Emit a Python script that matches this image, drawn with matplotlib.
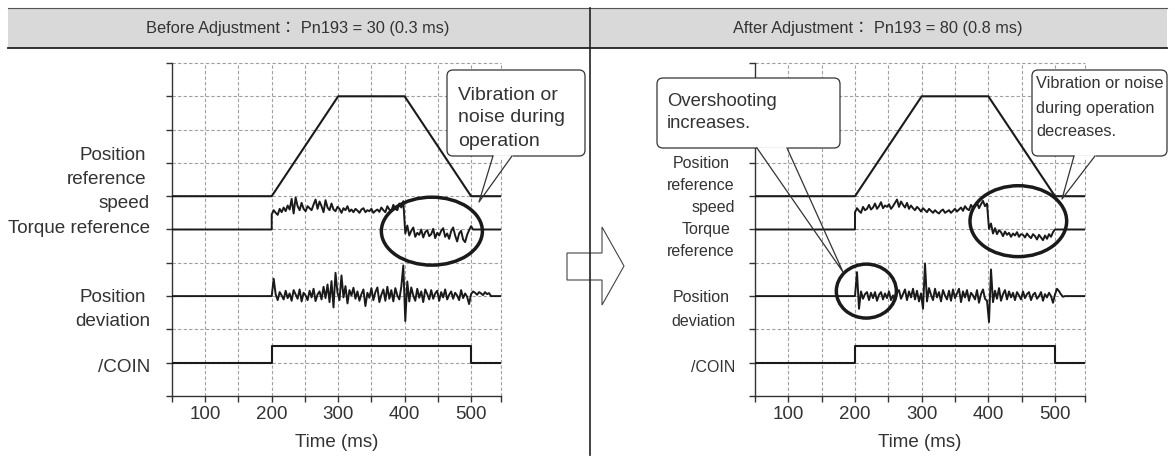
import matplotlib
matplotlib.use("Agg")
import matplotlib.pyplot as plt
import numpy as np
from matplotlib.patches import Ellipse, FancyBboxPatch, Polygon, Rectangle
from matplotlib.lines import Line2D
from matplotlib.transforms import Affine2D

plt.rcParams['font.family'] = ['Liberation Sans', 'Noto Sans CJK JP', 'DejaVu Sans']

# ---------------- data ----------------
titles = ["Before Adjustment： Pn193 = 30 (0.3 ms)", "After Adjustment： Pn193 = 80 (0.8 ms)"]
x_ticks = [50, 100, 150, 200, 250, 300, 350, 400, 450, 500]
x_ticklabels = ["", "100", "", "200", "", "300", "", "400", "", "500"]
x_label = "Time (ms)"
t_start, t_end = 50, 545

# position reference speed (level units)
speed_t = [50, 200, 300, 400, 500, 545]
speed_v = [6, 6, 9, 9, 6, 6]
# /COIN
coin_t = [50, 200, 200, 500, 500, 545]
coin_v = [1, 1, 1.5, 1.5, 1, 1]

torque_base = 5
posdev_base = 3
noise_t0 = 200
noise_dt = 3

# Before adjustment: torque reference samples (every 3 ms from 200 ms)
torque_before = [
    5.45, 5.58, 5.50, 5.44, 5.62, 5.52, 5.66, 5.55, 5.72, 5.60,
    5.92, 5.48, 5.96, 5.70, 5.58, 5.80, 5.62, 5.55, 5.70, 5.64,
    5.58, 5.75, 5.90, 5.62, 5.84, 5.70, 5.52, 5.88, 5.66, 5.58,
    5.78, 5.60, 5.55, 5.68, 5.62, 5.50, 5.64, 5.58, 5.70, 5.54,
    5.60, 5.52, 5.62, 5.57, 5.50, 5.60, 5.64, 5.52, 5.58, 5.55,
    5.62, 5.50, 5.56, 5.60, 5.53, 5.66, 5.58, 5.52, 5.70, 5.60,
    5.55, 5.74, 5.62, 5.58, 5.78, 5.66, 5.85, 4.88, 5.12, 4.82,
    4.96, 5.06, 4.78, 4.90, 4.84, 5.00, 4.76, 4.92, 4.98, 4.80,
    4.86, 5.02, 4.74, 4.90, 4.82, 4.96, 5.04, 4.78, 4.88, 4.72,
    4.95, 5.06, 4.82, 4.64, 4.88, 4.96, 4.70, 4.62, 4.84, 4.98,
    5.10, 5.00,
]
# Before adjustment: position deviation samples
posdev_before = [
    3.00, 3.52, 3.05, 2.88, 3.12, 3.02, 2.90, 3.16, 2.94, 3.08,
    2.86, 3.18, 3.05, 2.92, 3.20, 2.84, 3.10, 3.02, 2.88, 3.16,
    2.96, 3.22, 2.85, 3.05, 3.14, 2.90, 3.28, 2.94, 3.35, 2.82,
    3.45, 2.66, 3.70, 3.10, 2.88, 3.62, 2.96, 3.30, 2.78, 3.18,
    3.02, 3.25, 2.92, 3.14, 2.86, 3.06, 3.20, 2.70, 3.10, 2.95,
    3.24, 2.88, 3.12, 3.26, 2.82, 3.04, 3.20, 2.86, 3.28, 2.92,
    3.18, 2.84, 3.24, 3.02, 2.90, 3.28, 3.92, 2.25, 3.44, 2.84,
    3.26, 3.02, 2.86, 3.22, 2.95, 3.14, 2.82, 3.20, 3.06, 2.90,
    3.18, 2.92, 3.08, 3.16, 2.86, 3.12, 2.96, 3.20, 2.90, 3.04,
    3.14, 2.92, 3.10, 3.02, 2.88, 3.18, 2.94, 3.08, 2.98, 2.76,
    3.06, 3.14, 3.10, 3.04, 3.12, 3.08, 3.03, 3.12, 3.06, 3.09,
    3.00,
]
# After adjustment: torque reference samples
torque_after = [
    5.52, 5.64, 5.56, 5.50, 5.68, 5.58, 5.62, 5.74, 5.60, 5.66,
    5.78, 5.62, 5.70, 5.82, 5.64, 5.72, 5.68, 5.76, 5.62, 5.70,
    5.80, 5.90, 5.68, 5.84, 5.74, 5.66, 5.80, 5.62, 5.72, 5.64,
    5.58, 5.68, 5.62, 5.54, 5.64, 5.58, 5.52, 5.62, 5.56, 5.50,
    5.58, 5.52, 5.48, 5.56, 5.60, 5.50, 5.54, 5.58, 5.50, 5.56,
    5.62, 5.54, 5.60, 5.66, 5.56, 5.70, 5.62, 5.58, 5.74, 5.64,
    5.70, 5.80, 5.64, 5.76, 5.86, 5.70, 5.78, 5.02, 5.18, 4.88,
    5.04, 4.86, 4.98, 4.92, 4.80, 4.94, 4.84, 4.90, 4.78, 4.88,
    4.82, 4.92, 4.78, 4.86, 4.84, 4.76, 4.88, 4.80, 4.74, 4.86,
    4.80, 4.70, 4.84, 4.76, 4.68, 4.82, 4.72, 4.86, 4.78, 4.92,
    5.00,
]
# After adjustment: position deviation samples
posdev_after = [
    3.00, 3.72, 2.62, 3.14, 2.92, 3.06, 3.12, 2.88, 3.10, 2.94,
    3.12, 2.86, 3.04, 3.12, 2.90, 3.08, 2.94, 3.14, 2.88, 3.02,
    2.86, 3.10, 3.18, 2.92, 3.06, 3.20, 2.88, 3.14, 2.96, 3.22,
    2.90, 3.16, 2.84, 3.08, 2.62, 3.98, 2.84, 3.24, 3.04, 2.88,
    3.22, 2.96, 3.12, 2.84, 3.18, 3.02, 2.90, 3.16, 2.86, 3.20,
    2.94, 3.08, 3.22, 2.82, 3.14, 2.96, 3.18, 2.86, 3.10, 3.02,
    2.90, 3.18, 2.80, 3.06, 3.20, 2.92, 2.86, 2.22, 3.80, 2.82,
    3.16, 2.92, 3.24, 2.86, 3.06, 3.18, 2.90, 3.14, 2.96, 3.10,
    2.88, 3.12, 3.02, 2.90, 3.14, 2.94, 3.06, 3.12, 2.88, 3.04,
    3.10, 2.92, 3.00, 3.12, 2.86, 3.06, 2.96, 3.10, 3.00, 2.80,
    3.05, 3.22, 3.15, 3.05, 2.98, 3.00,
]

labels_before = [("Position", 146, 156), ("reference", 146, 179), ("speed", 150, 203),
                 ("Torque reference", 150, 228), ("Position", 146, 298),
                 ("deviation", 150, 321), ("/COIN", 150, 367)]
labels_after = [("Position", 730, 163), ("reference", 735, 185), ("speed", 735, 207),
                ("Torque", 730, 229), ("reference", 735, 252), ("Position", 730, 298),
                ("deviation", 735, 321), ("/COIN", 735, 367)]

# ---------------- figure ----------------
W, H = 1175, 461
fig = plt.figure(figsize=(W / 100, H / 100), dpi=100)
T = Affine2D().scale(1.0 / W, -1.0 / H).translate(0, 1) + fig.transFigure

TXT = '#333333'
INK = '#1a1a1a'
GRID = '#a0a0a0'


def fx(px):
    return px / W


def fy(py):
    return 1 - py / H


def full_series(samples, base):
    n = len(samples)
    t = noise_t0 + noise_dt * np.arange(n)
    tt = np.concatenate([[t_start, noise_t0], t, [t_end]])
    vv = np.concatenate([[base, base], samples, [base]])
    return tt, vv


def make_axes(left_px, right_px, torque, posdev):
    ax = fig.add_axes([fx(left_px), fy(396), (right_px - left_px) / W, (396 - 63) / H])
    ax.set_xlim(t_start, t_end)
    ax.set_ylim(0, 10)
    for s in ['top', 'right']:
        ax.spines[s].set_visible(False)
    for s in ['left', 'bottom']:
        ax.spines[s].set_color('#333333')
        ax.spines[s].set_linewidth(1.0)
    ax.set_xticks(x_ticks + [t_end])
    ax.set_xticklabels(x_ticklabels + [""])
    ax.set_yticks(range(0, 11))
    ax.set_yticklabels([])
    ax.tick_params(direction='out', length=4, width=1, color='#333333',
                   labelsize=13.5, labelcolor=TXT, pad=3)
    for x in range(100, 501, 50):
        ax.axvline(x, color=GRID, lw=0.8, ls=(0, (3, 2)), zorder=1)
    ax.axvline(t_end, color=GRID, lw=0.8, ls=(0, (3, 2)), zorder=1, clip_on=False)
    for y in range(1, 11):
        ax.axhline(y, color=GRID, lw=0.8, ls=(0, (3, 2)), zorder=1, clip_on=False)
    ax.plot(speed_t, speed_v, color=INK, lw=1.5, zorder=3)
    ax.plot(coin_t, coin_v, color=INK, lw=1.5, zorder=3)
    tt, vv = full_series(torque, torque_base)
    ax.plot(tt, vv, color=INK, lw=1.4, zorder=3)
    tt, vv = full_series(posdev, posdev_base)
    ax.plot(tt, vv, color=INK, lw=1.4, zorder=3)
    fig.text(fx((left_px + right_px) / 2), fy(442), x_label, ha='center', va='center',
             fontsize=13.5, color=TXT)
    return ax


axL = make_axes(172, 501, torque_before, posdev_before)
axR = make_axes(755, 1085, torque_after, posdev_after)

# circles
axL.add_patch(Ellipse((441, 4.95), 152, 2.04, fill=False, lw=2.5, ec=INK, zorder=5, clip_on=False))
axR.add_patch(Ellipse((445, 5.25), 145, 2.13, fill=False, lw=2.5, ec=INK, zorder=5, clip_on=False))
axR.add_patch(Ellipse((217, 3.15), 90, 1.62, fill=False, lw=2.5, ec=INK, zorder=5, clip_on=False))

# row labels
for txt, x, y in labels_before:
    fig.text(fx(x), fy(y), txt, ha='right', va='center', fontsize=13.6, color=TXT)
for txt, x, y in labels_after:
    fig.text(fx(x), fy(y), txt, ha='right', va='center', fontsize=11.5, color=TXT)

# header band
fig.add_artist(Rectangle((8, 8), 1159, 40, transform=T, fc='#d9d9d9', ec='none', zorder=1))
fig.add_artist(Line2D([8, 1167], [8, 8], transform=T, color='#555555', lw=0.8, zorder=2))
fig.add_artist(Line2D([8, 1167], [48, 48], transform=T, color='#222222', lw=1.3, zorder=2))
fig.text(fx(298), fy(28), titles[0], ha='center', va='center', fontsize=11.8, color=TXT, zorder=4)
fig.text(fx(878), fy(28), titles[1], ha='center', va='center', fontsize=11.8, color=TXT, zorder=4)

# big arrow between panels
arrow_pts = [(567, 253), (602, 253), (602, 227), (624, 266), (602, 305), (602, 280), (567, 280)]
fig.add_artist(Polygon(arrow_pts, closed=True, transform=T, fc='white', ec='#444444', lw=0.8, zorder=2))
fig.add_artist(Line2D([590, 590], [8, 455], transform=T, color='#222222', lw=1.2, zorder=3))


def callout(x0, y0, x1, y1, b0, b1, tip, lines, tx, ty, fs, dy):
    fig.add_artist(FancyBboxPatch((x0, y0), x1 - x0, y1 - y0,
                                  boxstyle='round,pad=0,rounding_size=6', transform=T,
                                  fc='white', ec='#333333', lw=0.9, zorder=6))
    fig.add_artist(Line2D([b0 + 0.6, b1 - 0.6], [y1, y1], transform=T, color='white', lw=2.0, zorder=7))
    fig.add_artist(Line2D([b0, tip[0], b1], [y1, tip[1], y1], transform=T, color='#333333', lw=0.9, zorder=7))
    for i, s in enumerate(lines):
        fig.text(fx(tx), fy(ty + i * dy), s, ha='left', va='center', fontsize=fs, color=TXT, zorder=8)


callout(447, 70, 585, 156, 493, 512, (479, 202),
        ["Vibration or", "noise during", "operation"], 458, 95, 14, 23)
callout(657, 78, 840, 148, 757, 787, (843, 272),
        ["Overshooting", "increases."], 667, 101, 13.3, 23)
callout(1032, 70, 1167, 156, 1074, 1095, (1062, 199),
        ["Vibration or noise", "during operation", "decreases."], 1036, 84, 11.8, 24)

fig.savefig("out.png", dpi=100)
